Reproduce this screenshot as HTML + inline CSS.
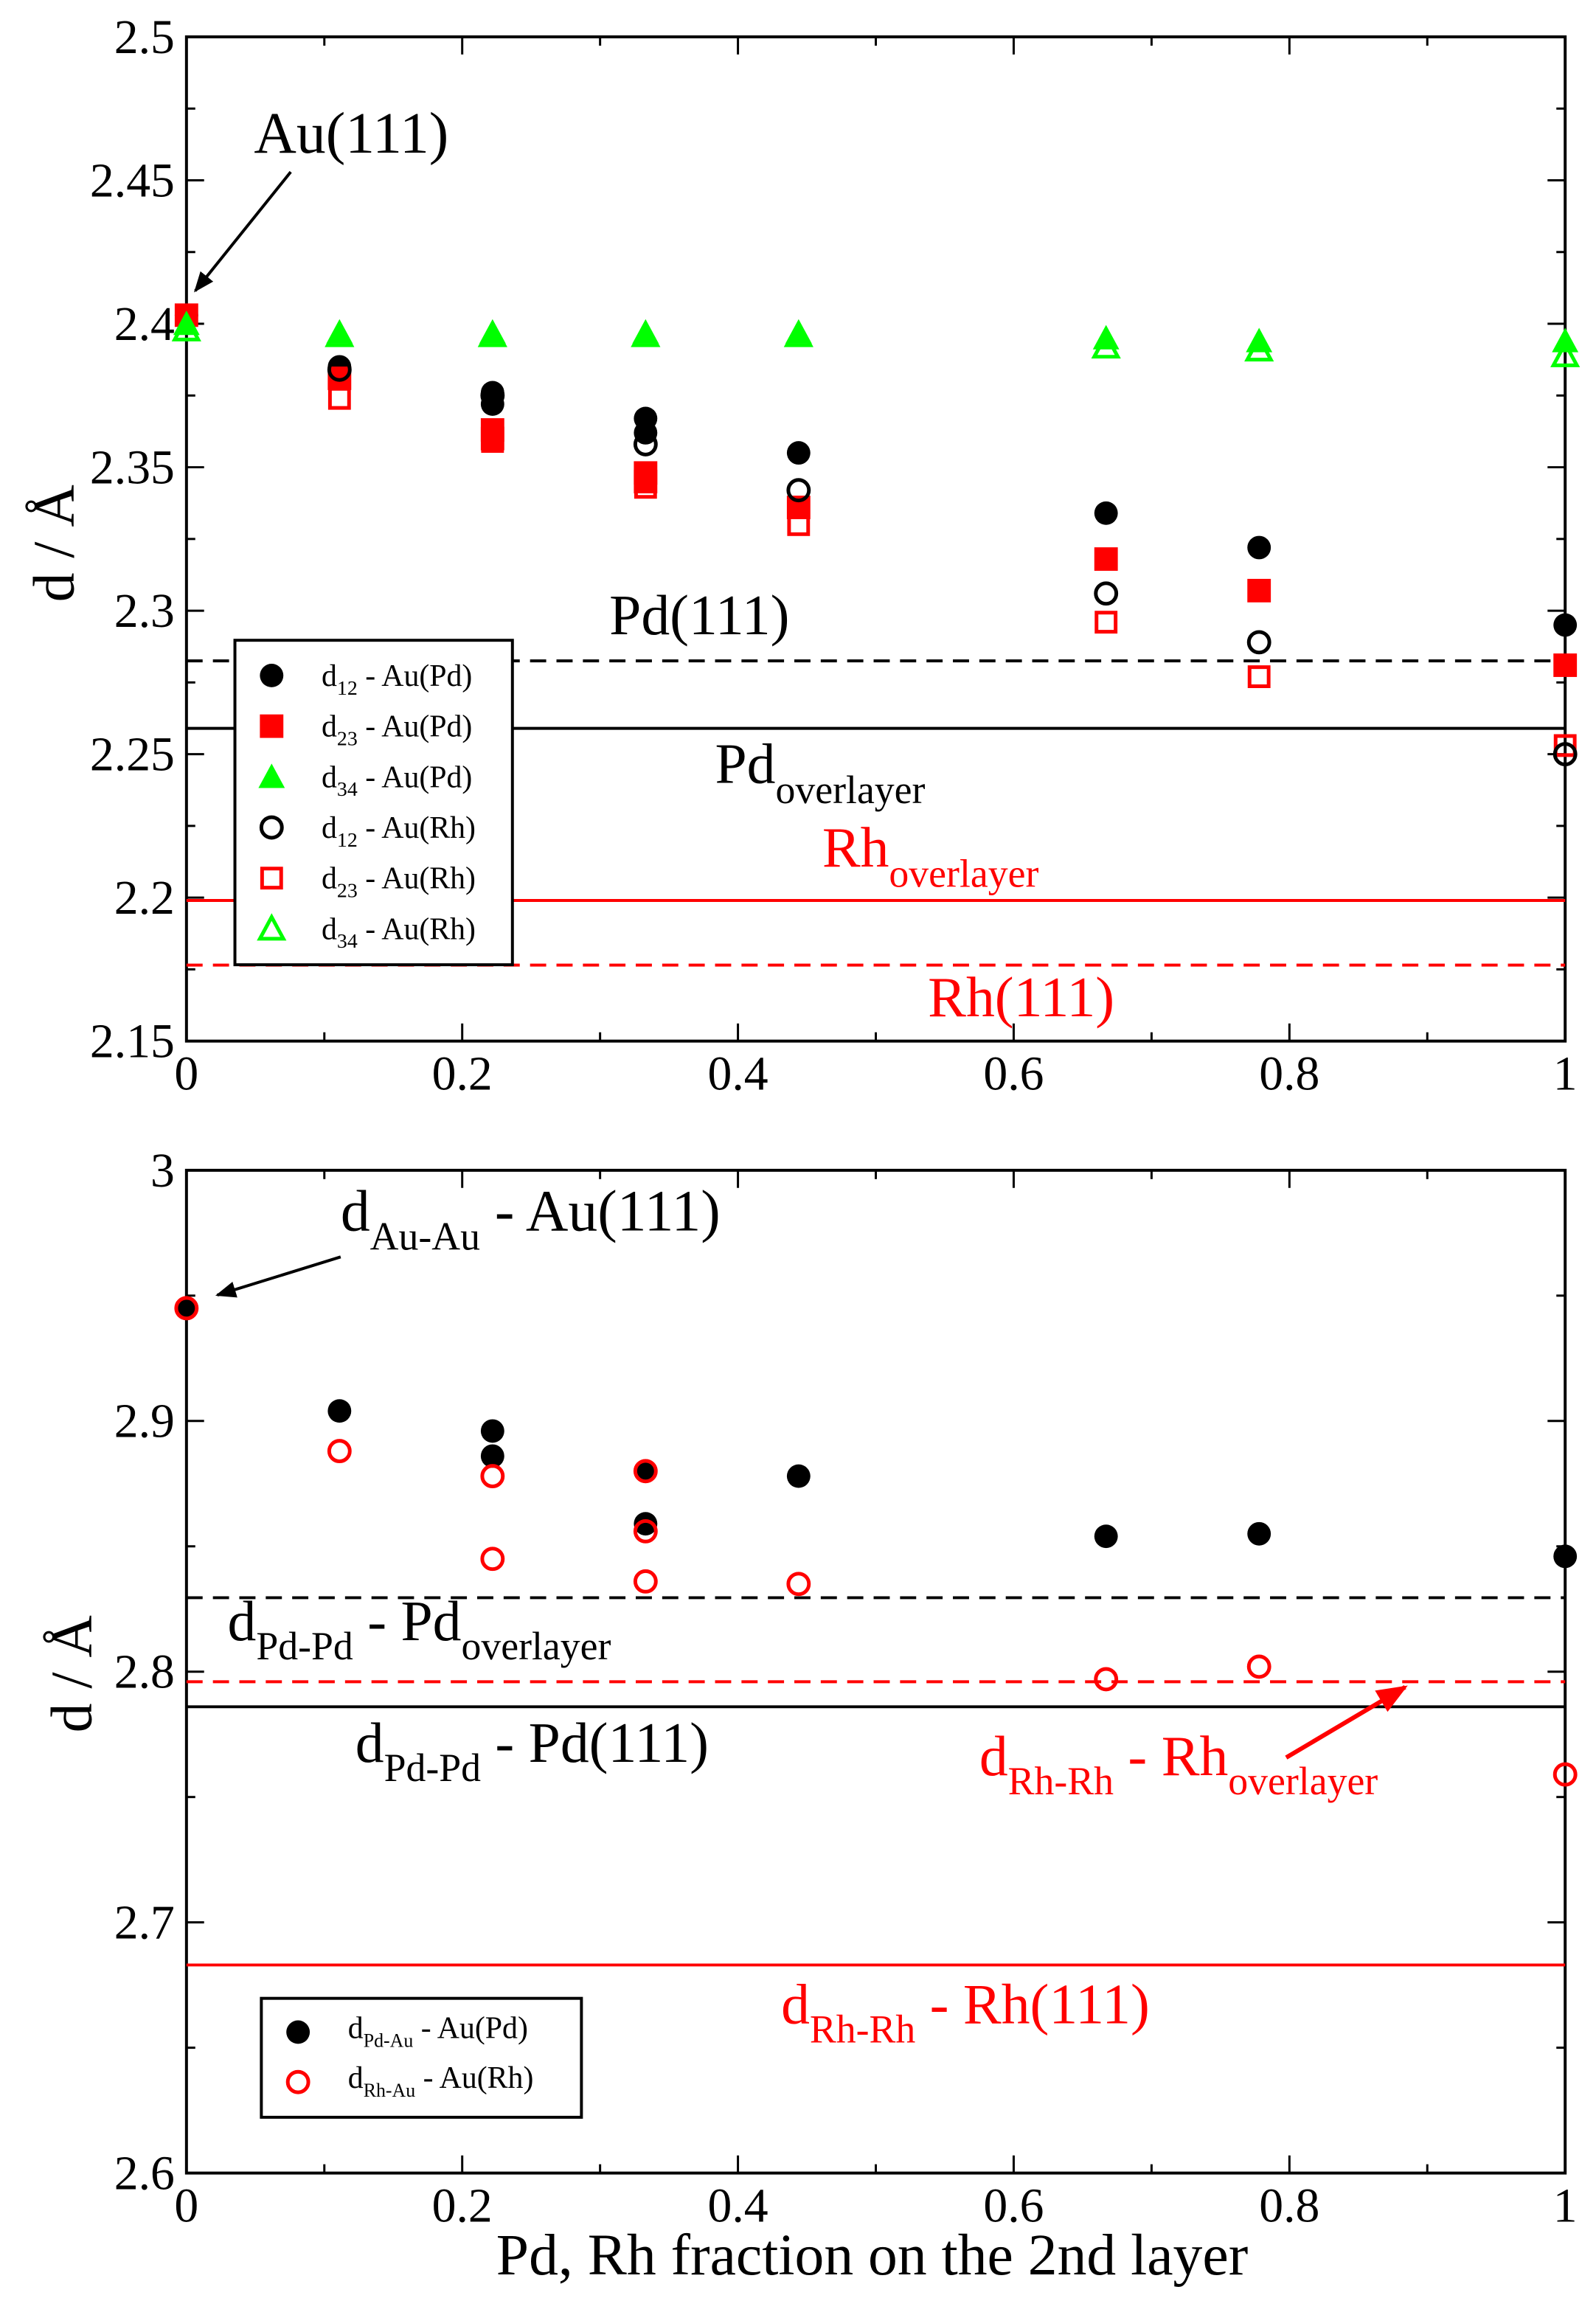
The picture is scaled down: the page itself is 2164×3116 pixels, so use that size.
<!DOCTYPE html>
<html><head><meta charset="utf-8"><style>
html,body{margin:0;padding:0;background:#fff}
svg{display:block}
text{font-family:"Liberation Serif",serif}
</style></head><body>
<svg id="chart" xmlns="http://www.w3.org/2000/svg" width="2164" height="3116" viewBox="0 0 1087 1565">
<defs>
<marker id="ahb" viewBox="0 0 10 10" refX="9" refY="5" markerWidth="7" markerHeight="7" orient="auto"><path d="M0,1 L10,5 L0,9 z" fill="#000"/></marker>
<marker id="ahr" viewBox="0 0 10 10" refX="9" refY="5" markerWidth="7" markerHeight="7" orient="auto"><path d="M0,1 L10,5 L0,9 z" fill="#f00"/></marker>
</defs>
<g id="g"></g>
</svg>
<script>
const xCats = [0, 0.111, 0.222, 0.333, 0.444, 0.667, 0.778, 1];
// top panel series (x, y pairs)
const d12Pd = [[0,2.403],[0.111,2.385],[0.222,2.376],[0.222,2.372],[0.333,2.367],[0.333,2.362],[0.444,2.355],[0.667,2.334],[0.778,2.322],[1,2.295]];
const d23Pd = [[0,2.403],[0.111,2.381],[0.222,2.363],[0.222,2.360],[0.333,2.348],[0.333,2.345],[0.444,2.336],[0.667,2.318],[0.778,2.307],[1,2.281]];
const d34Pd = [[0,2.400],[0.111,2.397],[0.222,2.397],[0.333,2.397],[0.444,2.397],[0.667,2.395],[0.778,2.394],[1,2.394]];
const d12Rh = [[0.111,2.384],[0.222,2.375],[0.333,2.358],[0.444,2.342],[0.667,2.306],[0.778,2.289],[1,2.250]];
const d23Rh = [[0.111,2.374],[0.222,2.359],[0.333,2.343],[0.444,2.330],[0.667,2.296],[0.778,2.277],[1,2.253]];
const d34Rh = [[0,2.398],[0.111,2.396],[0.222,2.396],[0.333,2.396],[0.444,2.396],[0.667,2.392],[0.778,2.391],[1,2.389]];
const topRefLines = [2.2825, 2.259, 2.199, 2.1765];
const topYTicks = ["2.15","2.2","2.25","2.3","2.35","2.4","2.45","2.5"];
const xTicks = ["0","0.2","0.4","0.6","0.8","1"];
// bottom panel
const dPdAu = [[0,2.945],[0.111,2.904],[0.222,2.896],[0.222,2.886],[0.333,2.880],[0.333,2.859],[0.444,2.878],[0.667,2.854],[0.778,2.855],[1,2.846]];
const dRhAu = [[0,2.945],[0.111,2.888],[0.222,2.878],[0.222,2.845],[0.333,2.880],[0.333,2.856],[0.333,2.836],[0.444,2.835],[0.667,2.797],[0.778,2.802],[1,2.759]];
const botRefLines = [2.8295, 2.796, 2.786, 2.683];
const botYTicks = ["2.6","2.7","2.8","2.9","3"];

const NS="http://www.w3.org/2000/svg";
const G=document.getElementById('g');
function el(t,a,p){const e=document.createElementNS(NS,t);for(const k in a)e.setAttribute(k,a[k]);(p||G).appendChild(e);return e;}
const L=127,R=1066;
function X(v){return L+(R-L)*v;}
function mkY(y0,y1,v0,v1){return v=>y0+(y1-y0)*(v-v0)/(v1-v0);}
const Yt=mkY(709,25,2.15,2.5);
const Yb=mkY(1480,797,2.6,3.0);

function frame(top,bot,Y,yMin,yMax,yMaj,yMin2,name){
  const fr=el('rect',{x:L,y:top,width:R-L,height:bot-top,fill:'none',stroke:'#000','stroke-width':2});
  
  
  for(let v=0;v<=1.0001;v+=0.1){
    const maj=Math.round(v*10)%2===0, len=maj?12:6;
    el('line',{x1:X(v),x2:X(v),y1:bot,y2:bot-len,stroke:'#000','stroke-width':1.5});
    el('line',{x1:X(v),x2:X(v),y1:top,y2:top+len,stroke:'#000','stroke-width':1.5});
  }
  const n=Math.round((yMax-yMin)/yMin2);
  for(let i=0;i<=n;i++){
    const v=yMin+i*yMin2, maj=i%2===0, len=maj?12:6;
    el('line',{x1:L,x2:L+len,y1:Y(v),y2:Y(v),stroke:'#000','stroke-width':1.5});
    el('line',{x1:R,x2:R-len,y1:Y(v),y2:Y(v),stroke:'#000','stroke-width':1.5});
  }
}
function ytickLabels(arr,Y,name){
  arr.forEach(s=>{
    const t=el('text',{x:L-8,y:Y(parseFloat(s))+11,'text-anchor':'end','font-size':33});
    t.textContent=s;
    
    
  });
}
function xtickLabels(yy,name){
  xTicks.forEach(s=>{
    const t=el('text',{x:X(parseFloat(s)),y:yy,'text-anchor':'middle','font-size':33});
    t.textContent=s;
    
    
  });
}
function marker(kind,color,filled,cx,cy,name){
  let e;
  const f=filled?color:'none', sw=filled?0:2.5;
  if(kind==='c'){e=el('circle',{cx,cy,r:filled?8:7,fill:f,stroke:color,'stroke-width':filled?0:2.5});}
  else if(kind==='s'){const s=filled?16:13;e=el('rect',{x:cx-s/2,y:cy-s/2,width:s,height:s,fill:f,stroke:color,'stroke-width':sw});}
  else {const h=filled?9:8;e=el('polygon',{points:`${cx},${cy-h} ${cx+h},${cy+h*0.85} ${cx-h},${cy+h*0.85}`,fill:f,stroke:color,'stroke-width':sw});}
  
  
  return e;
}
function series(data,Y,kind,color,filled,name){
  data.forEach(p=>marker(kind,color,filled,X(p[0]),Y(p[1]),name));
}
function hline(v,Y,color,dash,name){
  const a={x1:L,x2:R,y1:Y(v),y2:Y(v),stroke:color,'stroke-width':2};
  if(dash)a['stroke-dasharray']='11,7';
  const e=el('line',a);
  
  
}
function txt(x,y,parts,color,name){
  const t=el('text',{x,y,fill:color});
  parts.forEach(p=>{const s=el('tspan',{'font-size':p[1],dy:p[2]||0},t);s.textContent=p[0];});
  
  
  return t;
}

/* TOP PANEL */
frame(25,709,Yt,2.15,2.5,0.05,0.025,'top-plot');
ytickLabels(topYTicks,Yt,'top');
xtickLabels(742,'top');
hline(topRefLines[0],Yt,'#000',true,'pd111-line');
hline(topRefLines[1],Yt,'#000',false,'pd-overlayer-line');
hline(topRefLines[2],Yt,'#f00',false,'rh-overlayer-line');
hline(topRefLines[3],Yt,'#f00',true,'rh111-line');
series(d34Rh,Yt,'t','#0f0',false,'d34-au-rh-point');
series(d12Pd,Yt,'c','#000',true,'d12-au-pd-point');
series(d23Pd,Yt,'s','#f00',true,'d23-au-pd-point');
series(d34Pd,Yt,'t','#0f0',true,'d34-au-pd-point');
series(d23Rh,Yt,'s','#f00',false,'d23-au-rh-point');
series(d12Rh,Yt,'c','#000',false,'d12-au-rh-point');
{const t=el('text',{x:0,y:0,'font-size':40,transform:'translate(50,370) rotate(-90)','text-anchor':'middle'});t.textContent='d / Å';

}
txt(173,104,[['Au(111)',40]],'#000','au111-annotation');
{const a=el('line',{x1:198,y1:117,x2:133,y2:198,stroke:'#000','stroke-width':2,'marker-end':'url(#ahb)'});

}
txt(415,432,[['Pd(111)',39]],'#000','pd111-label');
txt(487,533,[['Pd',39],['overlayer',27,14]],'#000','pd-overlayer-label');
txt(560,590,[['Rh',39],['overlayer',27,14]],'#f00','rh-overlayer-label');
txt(632,692,[['Rh(111)',39]],'#f00','rh111-label');
{const b=el('rect',{x:160,y:436,width:189,height:221,fill:'#fff',stroke:'#000','stroke-width':2});


const items=[['c','#000',true,'12','Pd'],['s','#f00',true,'23','Pd'],['t','#0f0',true,'34','Pd'],['c','#000',false,'12','Rh'],['s','#f00',false,'23','Rh'],['t','#0f0',false,'34','Rh']];
items.forEach((it,i)=>{const yy=460+i*34.5;
 marker(it[0],it[1],it[2],185,yy,'legend-marker');
 txt(219,yy+7,[['d',21],[it[3],14,6],[' - Au('+it[4]+')',21,-6]],'#000','legend-entry');});}

/* BOTTOM PANEL */
frame(797,1480,Yb,2.6,3.0,0.1,0.05,'bottom-plot');
ytickLabels(botYTicks,Yb,'bottom');
xtickLabels(1513,'bottom');
hline(botRefLines[0],Yb,'#000',true,'dpdpd-overlayer-line');
hline(botRefLines[1],Yb,'#f00',true,'drhrh-overlayer-line');
hline(botRefLines[2],Yb,'#000',false,'dpdpd-pd111-line');
hline(botRefLines[3],Yb,'#f00',false,'drhrh-rh111-line');
series(dPdAu,Yb,'c','#000',true,'dpd-au-point');
series(dRhAu,Yb,'c','#f00',false,'drh-au-point');
{const t=el('text',{x:0,y:0,'font-size':40,transform:'translate(62,1140) rotate(-90)','text-anchor':'middle'});t.textContent='d / Å';

}
{const t=el('text',{x:594,y:1549,'font-size':40,'text-anchor':'middle'});t.textContent='Pd, Rh fraction on the 2nd layer';

}
txt(232,838,[['d',40],['Au-Au',27,13],[' - Au(111)',40,-13]],'#000','dauau-annotation');
{const a=el('line',{x1:232,y1:856,x2:148,y2:882,stroke:'#000','stroke-width':2,'marker-end':'url(#ahb)'});

}
txt(155,1117,[['d',39],['Pd-Pd',27,13],[' - Pd',39,-13],['overlayer',27,13]],'#000','dpdpd-overlayer-label');
txt(242,1200,[['d',39],['Pd-Pd',27,13],[' - Pd(111)',39,-13]],'#000','dpdpd-pd111-label');
txt(667,1209,[['d',39],['Rh-Rh',27,13],[' - Rh',39,-13],['overlayer',27,13]],'#f00','drhrh-overlayer-label');
{const a=el('line',{x1:876,y1:1197,x2:957,y2:1149,stroke:'#f00','stroke-width':3,'marker-end':'url(#ahr)'});

}
txt(532,1378,[['d',39],['Rh-Rh',27,13],[' - Rh(111)',39,-13]],'#f00','drhrh-rh111-label');
{const b=el('rect',{x:178,y:1361,width:218,height:81,fill:'#fff',stroke:'#000','stroke-width':2});


marker('c','#000',true,203,1384,'legend-marker');
txt(237,1388,[['d',21],['Pd-Au',13,6],[' - Au(Pd)',21,-6]],'#000','legend-entry');
marker('c','#f00',false,203,1418,'legend-marker');
txt(237,1422,[['d',21],['Rh-Au',13,6],[' - Au(Rh)',21,-6]],'#000','legend-entry');}
</script>
</body></html>
